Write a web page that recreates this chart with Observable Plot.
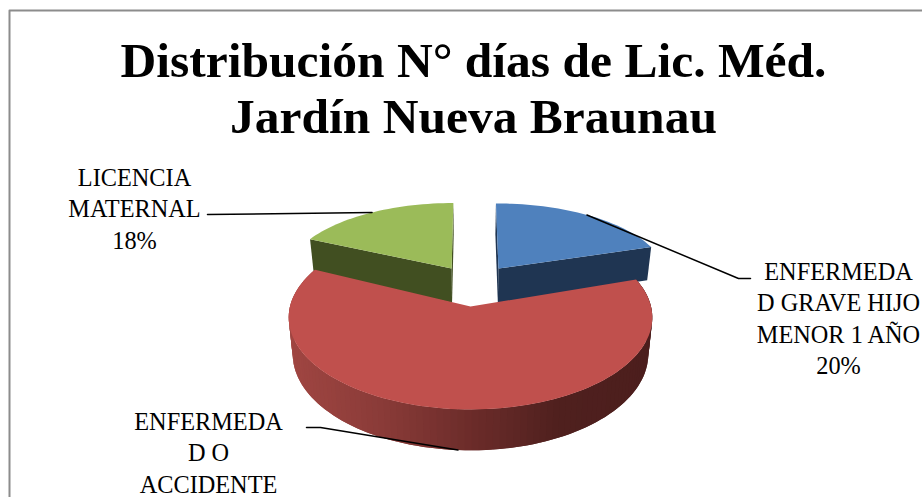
<!DOCTYPE html>
<html>
<head>
<meta charset="utf-8">
<script src="https://cdn.jsdelivr.net/npm/d3@7"></script>
<script src="https://cdn.jsdelivr.net/npm/@observablehq/plot@0.6"></script>
<style>html,body{margin:0;padding:0;background:#fff;overflow:hidden}svg{display:block}</style>
</head>
<body>
<div id="chart"></div>
<script>
// --- data ---
const categories = ["ENFERMEDAD GRAVE HIJO MENOR 1 AÑO", "ENFERMEDAD O ACCIDENTE", "LICENCIA MATERNAL"];
const values = [20, 62, 18];
const topColors = ["#4f81bd", "#c0504d", "#9bbb59"];
const sideColors = ["#1f3552", "#4f1f1d", "#414f21"];
const titleLines = ["Distribución N° días de Lic. Méd.", "Jardín Nueva Braunau"];
const labelLines = [
  ["ENFERMEDA", "D GRAVE HIJO", "MENOR 1 AÑO", "20%"],
  ["ENFERMEDA", "D O", "ACCIDENTE"],
  ["LICENCIA", "MATERNAL", "18%"]
];

// --- layout ---
const W = 922, H = 497;
const cx = 470, cy = 306, R = 180.5, A = 90.7, K = 0.119, D = 36, NARROW = 0.978;
// exploded offset and radii of each slice in disc units
const slices = [
  {U0: 0.163, V0: 0.44, ru: 0.97, rv: 0.874},
  {U0: 0, V0: 0, ru: 1, rv: 1},
  {U0: -0.11, V0: 0.44, ru: 0.956, rv: 0.88}
];
const labelPos = [
  {x: 838, y: 279, step: 31.5},
  {x: 208, y: 429, step: 31.5},
  {x: 134, y: 185, step: 31.5}
];
const leaderEnds = [
  [[738, 278], [750, 278]],
  [[320, 427], [306, 427]],
  [[207, 214]]
];

const arcs = d3.pie().sort(null)(values);

function pt(s, th, bottom) {
  const U = s.U0 + s.ru * Math.sin(th), V = s.V0 + s.rv * Math.cos(th);
  return proj(U, V, bottom);
}
function proj(U, V, bottom) {
  const p = 1 / (1 + K * V);
  let x = cx + R * U * p, y = cy - A * V * p;
  if (bottom) { x = cx + (x - cx) * NARROW; y += D * p; }
  return {x, y};
}
function apex(s, bottom) { return proj(s.U0, s.V0, bottom); }
function arcPts(s, a0, a1, bottom) {
  const n = Math.max(2, Math.ceil((a1 - a0) / (2 * Math.PI / 180)));
  return d3.range(n + 1).map(i => pt(s, a0 + (a1 - a0) * i / n, bottom));
}
const poly = (rows, fill) => Plot.line(rows, {x: "x", y: "y", fill, stroke: "none"});

const marks = [];
// frame
const frame = [{x: 9, y: H}, {x: 9, y: 10}, {x: W, y: 10}];
marks.push(Plot.line(frame, {x: "x", y: "y", stroke: "#8c8c8c", strokeWidth: 2}));

// back slices: cut faces and outer wall, then top
[2, 0].forEach(i => {
  const s = slices[i], a = arcs[i];
  const edge = i === 0 ? a.endAngle : a.startAngle;
  marks.push(poly([apex(s), pt(s, edge), pt(s, edge, true), apex(s, true)], sideColors[i]));
  const other = i === 0 ? a.startAngle : a.endAngle;
  marks.push(poly([apex(s), pt(s, other), pt(s, other, true), apex(s, true)], sideColors[i]));
  marks.push(poly([apex(s), ...arcPts(s, a.startAngle, a.endAngle)], topColors[i]));
});

// red slice: shaded wall; each band overlaps the next so no seams show
{
  const s = slices[1], a = arcs[1];
  const top = arcPts(s, a.startAngle, a.endAngle);
  const bot = arcPts(s, a.startAngle, a.endAngle, true);
  const quads = [];
  for (let i = 0; i < top.length - 1; i++) {
    const j = Math.min(i + 2, top.length - 1);
    const shade = (top[i].x + top[i + 1].x) / 2;
    [top[i], top[i + 1], top[j], bot[j], bot[i + 1], bot[i]].forEach(p => quads.push({...p, id: i, shade}));
  }
  marks.push(Plot.line(quads, {x: "x", y: "y", z: "id", fill: "shade", stroke: "none"}));
  marks.push(poly([apex(s), ...top], topColors[1]));
}

// leaders anchored at each slice's mid-angle
arcs.forEach((a, i) => {
  const mid = (a.startAngle + a.endAngle) / 2;
  const anchor = pt(slices[i], mid, i === 1);
  const rows = [anchor, ...leaderEnds[i].map(([x, y]) => ({x, y}))];
  marks.push(Plot.line(rows, {x: "x", y: "y", stroke: "#000", strokeWidth: 1.5}));
});

// text
const serif = "'Liberation Serif', serif";
const titleRows = titleLines.map((t, i) => ({t, x: 473, y: 76 + i * 56}));
marks.push(Plot.text(titleRows, {x: "x", y: "y", text: "t", lineAnchor: "bottom", fontFamily: serif, fontWeight: "bold", fontSize: 49.5, fill: "#000"}));
const labelRows = labelLines.flatMap((ls, i) => ls.map((t, j) => ({t, x: labelPos[i].x, y: labelPos[i].y + j * labelPos[i].step})));
marks.push(Plot.text(labelRows, {x: "x", y: "y", text: "t", lineAnchor: "bottom", fontFamily: serif, fontSize: 24.3, fill: "#000"}));

const chart = Plot.plot({
  width: W, height: H,
  marginTop: 0, marginRight: 0, marginBottom: 0, marginLeft: 0,
  x: {domain: [0, W], range: [0, W], axis: null},
  y: {domain: [0, H], range: [0, H], axis: null},
  color: {type: "linear", domain: [288, 380, 470, 560, 652],
          range: ["#a04642", "#8a3b38", "#6c2c2a", "#4f201e", "#4c1e1d"]},
  style: {background: "#fff"},
  marks
});
document.getElementById("chart").append(chart);
</script>
</body>
</html>
